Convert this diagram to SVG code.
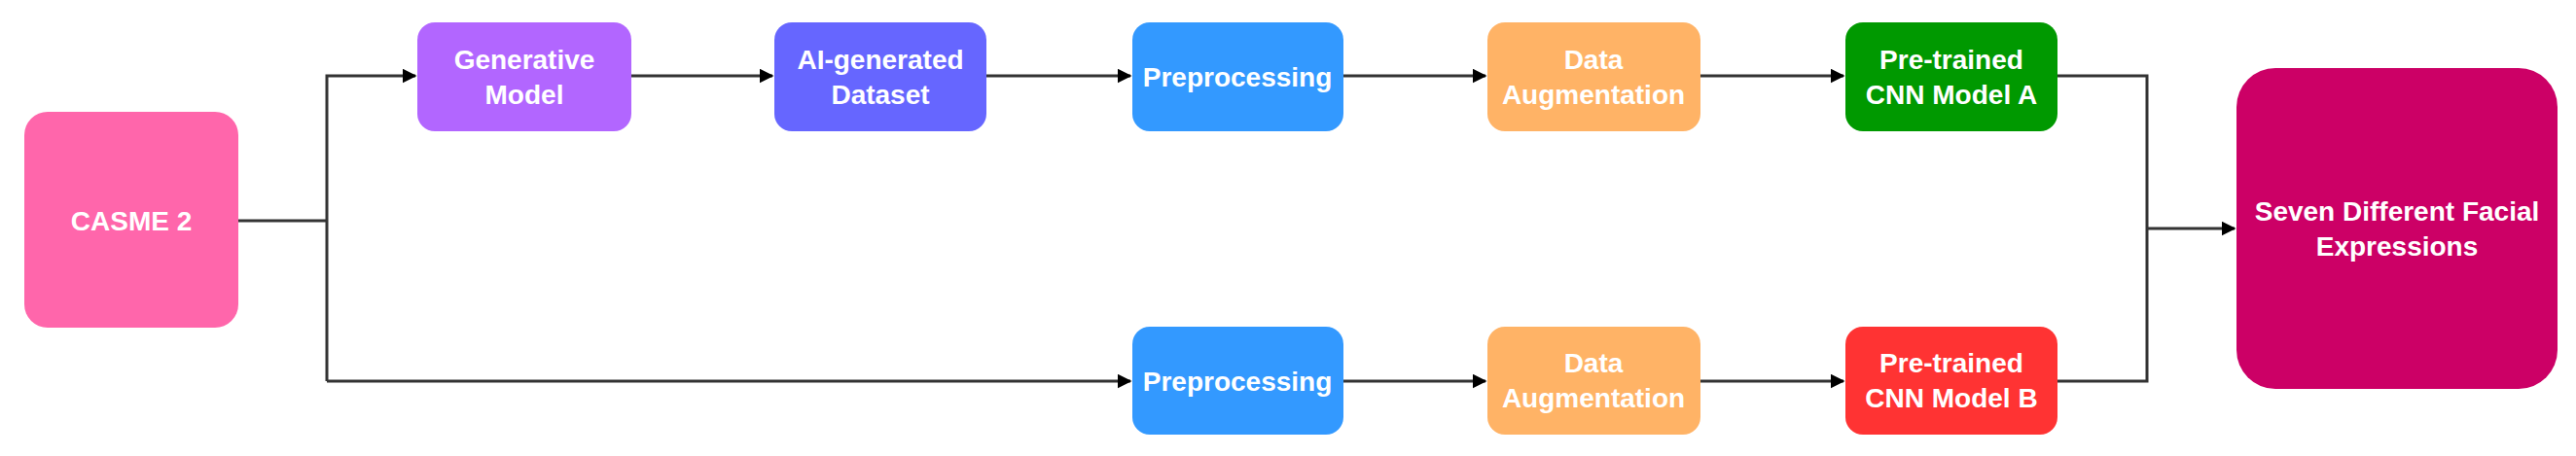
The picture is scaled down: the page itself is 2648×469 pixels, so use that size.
<svg xmlns="http://www.w3.org/2000/svg" width="2648" height="469" viewBox="0 0 2648 469">
<defs>
<marker id="ah" viewBox="0 0 10 10" refX="9" refY="5" markerWidth="5" markerHeight="5" orient="auto" markerUnits="strokeWidth"><path d="M0,0 L10,5 L0,10 z" fill="#000"/></marker>
<style>
.n{stroke:none}
.t{font-family:"Liberation Sans",Arial,sans-serif;font-weight:bold;font-size:28px;fill:#fff;text-anchor:middle}
.c{fill:none;stroke:#333;stroke-width:3}
</style>
</defs>
<rect width="2648" height="469" fill="#fff"/>
<g id="connectors">
<path class="c" d="M245,227 H336"/>
<path class="c" d="M336,392 V78 H427" marker-end="url(#ah)"/>
<path class="c" d="M336,392 H1162" marker-end="url(#ah)"/>
<path class="c" d="M649,78 H794" marker-end="url(#ah)"/>
<path class="c" d="M1014,78 H1162" marker-end="url(#ah)"/>
<path class="c" d="M1381,78 H1527" marker-end="url(#ah)"/>
<path class="c" d="M1748,78 H1895" marker-end="url(#ah)"/>
<path class="c" d="M1381,392 H1527" marker-end="url(#ah)"/>
<path class="c" d="M1748,392 H1895" marker-end="url(#ah)"/>
<path class="c" d="M2115,78 H2207 V392 H2115"/>
<path class="c" d="M2207,235 H2297" marker-end="url(#ah)"/>
</g>
<g id="casme"><rect class="n" x="25" y="115" width="220" height="222" rx="24" fill="#FF66AB"/><text class="t" x="135" y="237">CASME 2</text></g>
<g id="generative"><rect class="n" x="429" y="23" width="220" height="112" rx="18" fill="#B266FF"/><text class="t" x="539" y="71">Generative</text><text class="t" x="539" y="107">Model</text></g>
<g id="aidataset"><rect class="n" x="796" y="23" width="218" height="112" rx="18" fill="#6666FF"/><text class="t" x="905" y="71">AI-generated</text><text class="t" x="905" y="107">Dataset</text></g>
<g id="prepA"><rect class="n" x="1164" y="23" width="217" height="112" rx="18" fill="#3399FF"/><text class="t" x="1272" y="89">Preprocessing</text></g>
<g id="augA"><rect class="n" x="1529" y="23" width="219" height="112" rx="18" fill="#FFB366"/><text class="t" x="1638" y="71">Data</text><text class="t" x="1638" y="107">Augmentation</text></g>
<g id="cnnA"><rect class="n" x="1897" y="23" width="218" height="112" rx="18" fill="#009900"/><text class="t" x="2006" y="71">Pre-trained</text><text class="t" x="2006" y="107">CNN Model A</text></g>
<g id="prepB"><rect class="n" x="1164" y="336" width="217" height="111" rx="18" fill="#3399FF"/><text class="t" x="1272" y="402">Preprocessing</text></g>
<g id="augB"><rect class="n" x="1529" y="336" width="219" height="111" rx="18" fill="#FFB366"/><text class="t" x="1638" y="383">Data</text><text class="t" x="1638" y="419">Augmentation</text></g>
<g id="cnnB"><rect class="n" x="1897" y="336" width="218" height="111" rx="18" fill="#FF3333"/><text class="t" x="2006" y="383">Pre-trained</text><text class="t" x="2006" y="419">CNN Model B</text></g>
<g id="seven"><rect class="n" x="2299" y="70" width="330" height="330" rx="40" fill="#CC0066"/><text class="t" x="2464" y="227">Seven Different Facial</text><text class="t" x="2464" y="263">Expressions</text></g>
</svg>
